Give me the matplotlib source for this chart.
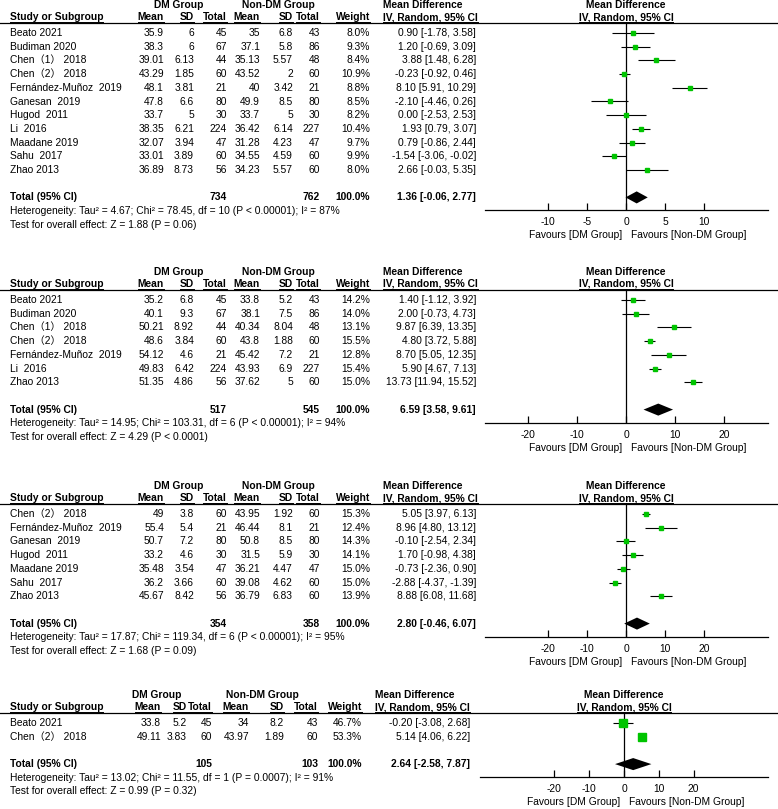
import matplotlib
matplotlib.use("Agg")
import matplotlib.pyplot as plt
import numpy as np

plt.rcParams['font.family'] = ['Liberation Sans', 'Noto Sans CJK SC']
plt.rcParams['axes.unicode_minus'] = False
FS = 7.4

#--------------------------------------------------
# datos (4 sub-analisis)

studies1 = ["Beato 2021", "Budiman 2020", "Chen（1） 2018", "Chen（2） 2018", "Fernández-Muñoz  2019",
            "Ganesan  2019", "Hugod  2011", "Li  2016", "Maadane 2019", "Sahu  2017", "Zhao 2013"]
dm_mean1 = [35.9, 38.3, 39.01, 43.29, 48.1, 47.8, 33.7, 38.35, 32.07, 33.01, 36.89]
dm_sd1 = [6, 6, 6.13, 1.85, 3.81, 6.6, 5, 6.21, 3.94, 3.89, 8.73]
dm_n1 = [45, 67, 44, 60, 21, 80, 30, 224, 47, 60, 56]
non_mean1 = [35, 37.1, 35.13, 43.52, 40, 49.9, 33.7, 36.42, 31.28, 34.55, 34.23]
non_sd1 = [6.8, 5.8, 5.57, 2, 3.42, 8.5, 5, 6.14, 4.23, 4.59, 5.57]
non_n1 = [43, 86, 48, 60, 21, 80, 30, 227, 47, 60, 60]
weight1 = [8.0, 9.3, 8.4, 10.9, 8.8, 8.5, 8.2, 10.4, 9.7, 9.9, 8.0]
md1 = [0.90, 1.20, 3.88, -0.23, 8.10, -2.10, 0.00, 1.93, 0.79, -1.54, 2.66]
lo1 = [-1.78, -0.69, 1.48, -0.92, 5.91, -4.46, -2.53, 0.79, -0.86, -3.06, -0.03]
hi1 = [3.58, 3.09, 6.28, 0.46, 10.29, 0.26, 2.53, 3.07, 2.44, -0.02, 5.35]
total1 = [734, 762, 1.36, -0.06, 2.77]
het1 = "Heterogeneity: Tau² = 4.67; Chi² = 78.45, df = 10 (P < 0.00001); I² = 87%"
test1 = "Test for overall effect: Z = 1.88 (P = 0.06)"
ticks1 = [-10, -5, 0, 5, 10]

studies2 = ["Beato 2021", "Budiman 2020", "Chen（1） 2018", "Chen（2） 2018", "Fernández-Muñoz  2019",
            "Li  2016", "Zhao 2013"]
dm_mean2 = [35.2, 40.1, 50.21, 48.6, 54.12, 49.83, 51.35]
dm_sd2 = [6.8, 9.3, 8.92, 3.84, 4.6, 6.42, 4.86]
dm_n2 = [45, 67, 44, 60, 21, 224, 56]
non_mean2 = [33.8, 38.1, 40.34, 43.8, 45.42, 43.93, 37.62]
non_sd2 = [5.2, 7.5, 8.04, 1.88, 7.2, 6.9, 5]
non_n2 = [43, 86, 48, 60, 21, 227, 60]
weight2 = [14.2, 14.0, 13.1, 15.5, 12.8, 15.4, 15.0]
md2 = [1.40, 2.00, 9.87, 4.80, 8.70, 5.90, 13.73]
lo2 = [-1.12, -0.73, 6.39, 3.72, 5.05, 4.67, 11.94]
hi2 = [3.92, 4.73, 13.35, 5.88, 12.35, 7.13, 15.52]
total2 = [517, 545, 6.59, 3.58, 9.61]
het2 = "Heterogeneity: Tau² = 14.95; Chi² = 103.31, df = 6 (P < 0.00001); I² = 94%"
test2 = "Test for overall effect: Z = 4.29 (P < 0.0001)"

studies3 = ["Chen（2） 2018", "Fernández-Muñoz  2019", "Ganesan  2019", "Hugod  2011", "Maadane 2019",
            "Sahu  2017", "Zhao 2013"]
dm_mean3 = [49, 55.4, 50.7, 33.2, 35.48, 36.2, 45.67]
dm_sd3 = [3.8, 5.4, 7.2, 4.6, 3.54, 3.66, 8.42]
dm_n3 = [60, 21, 80, 30, 47, 60, 56]
non_mean3 = [43.95, 46.44, 50.8, 31.5, 36.21, 39.08, 36.79]
non_sd3 = [1.92, 8.1, 8.5, 5.9, 4.47, 4.62, 6.83]
non_n3 = [60, 21, 80, 30, 47, 60, 60]
weight3 = [15.3, 12.4, 14.3, 14.1, 15.0, 15.0, 13.9]
md3 = [5.05, 8.96, -0.10, 1.70, -0.73, -2.88, 8.88]
lo3 = [3.97, 4.80, -2.54, -0.98, -2.36, -4.37, 6.08]
hi3 = [6.13, 13.12, 2.34, 4.38, 0.90, -1.39, 11.68]
total3 = [354, 358, 2.80, -0.46, 6.07]
het3 = "Heterogeneity: Tau² = 17.87; Chi² = 119.34, df = 6 (P < 0.00001); I² = 95%"
test3 = "Test for overall effect: Z = 1.68 (P = 0.09)"

studies4 = ["Beato 2021", "Chen（2） 2018"]
dm_mean4 = [33.8, 49.11]
dm_sd4 = [5.2, 3.83]
dm_n4 = [45, 60]
non_mean4 = [34, 43.97]
non_sd4 = [8.2, 1.89]
non_n4 = [43, 60]
weight4 = [46.7, 53.3]
md4 = [-0.20, 5.14]
lo4 = [-3.08, 4.06]
hi4 = [2.68, 6.22]
total4 = [105, 103, 2.64, -2.58, 7.87]
het4 = "Heterogeneity: Tau² = 13.02; Chi² = 11.55, df = 1 (P = 0.0007); I² = 91%"
test4 = "Test for overall effect: Z = 0.99 (P = 0.32)"
ticks20 = [-20, -10, 0, 10, 20]

#--------------------------------------------------
W, H = 778, 809
STEP = 13.7
fig = plt.figure(figsize=(W / 100, H / 100), dpi=100)
ax0 = fig.add_axes([0, 0, 1, 1])
ax0.set_xlim(0, W)
ax0.set_ylim(H, 0)
ax0.axis("off")

underlined = []


def txt(x, y, s, ha="left", bold=False, ul=False):
    t = ax0.text(x, y, s, ha=ha, va="center", fontsize=FS, fontweight="bold" if bold else "normal")
    if ul:
        underlined.append(t)
    return t


def fmt(v):
    return f"{v:g}"


def panel(row0, cols, studies, m1, s1, n1, m2, s2, n2, w, md, lo, hi, tot, het, test,
          ax_x, zero_px, half, ticks):
    c_m1, c_s1, c_n1, c_m2, c_s2, c_n2, c_w, c_md, c_mdh, c_dm, c_non = cols
    n = len(studies)
    y_grp = row0 - 28
    y_col = row0 - 16
    y_line = row0 - 11
    y_tot = row0 + (n + 1) * STEP
    y_axis = y_tot + 13

    txt(c_dm, y_grp, "DM Group", ha="center", bold=True)
    txt(c_non, y_grp, "Non-DM Group", ha="center", bold=True)
    txt(c_mdh, y_grp, "Mean Difference", bold=True)
    txt(zero_px, y_grp, "Mean Difference", ha="center", bold=True)
    txt(10, y_col, "Study or Subgroup", bold=True, ul=True)
    for x, s in zip([c_m1, c_s1, c_n1, c_m2, c_s2, c_n2, c_w],
                    ["Mean", "SD", "Total", "Mean", "SD", "Total", "Weight"]):
        txt(x, y_col, s, ha="right", bold=True, ul=True)
    txt(c_mdh, y_col, "IV, Random, 95% CI", bold=True, ul=True)
    txt(zero_px, y_col, "IV, Random, 95% CI", ha="center", bold=True, ul=True)
    ax0.plot([0, W], [y_line + 0.5, y_line + 0.5], color="black", lw=0.9)

    for i in range(n):
        y = row0 + i * STEP
        txt(10, y, studies[i])
        txt(c_m1, y, fmt(m1[i]), ha="right")
        txt(c_s1, y, fmt(s1[i]), ha="right")
        txt(c_n1, y, fmt(n1[i]), ha="right")
        txt(c_m2, y, fmt(m2[i]), ha="right")
        txt(c_s2, y, fmt(s2[i]), ha="right")
        txt(c_n2, y, fmt(n2[i]), ha="right")
        txt(c_w, y, f"{w[i]:.1f}%", ha="right")
        txt(c_md, y, f"{md[i]:.2f} [{lo[i]:.2f}, {hi[i]:.2f}]", ha="right")

    txt(10, y_tot, "Total (95% CI)", bold=True)
    txt(c_n1, y_tot, fmt(tot[0]), ha="right", bold=True)
    txt(c_n2, y_tot, fmt(tot[1]), ha="right", bold=True)
    txt(c_w, y_tot, "100.0%", ha="right", bold=True)
    txt(c_md, y_tot, f"{tot[2]:.2f} [{tot[3]:.2f}, {tot[4]:.2f}]", ha="right", bold=True)
    txt(10, y_tot + STEP, het)
    txt(10, y_tot + 2 * STEP, test)

    # forest
    x0, x1 = ax_x
    ax = fig.add_axes([x0 / W, 1 - y_axis / H, (x1 - x0) / W, (y_axis - y_line) / H])
    ax.patch.set_alpha(0)
    ax.set_xlim(-half * (zero_px - x0) / (x1 - zero_px), half)
    ax.set_ylim((y_axis - row0) / STEP, (y_line - row0) / STEP)
    for sp in ["top", "left", "right"]:
        ax.spines[sp].set_visible(False)
    ax.spines["bottom"].set_linewidth(0.9)
    ax.set_yticks([])
    ax.set_xticks(ticks)
    ax.tick_params(axis="x", direction="in", length=5, width=0.9, pad=5, labelsize=FS)
    ax.axvline(0, color="black", lw=0.9)
    idx = np.arange(n)
    ax.hlines(idx, lo, hi, color="black", lw=0.8)
    for i in range(n):
        side = 1.17 * np.sqrt(w[i])
        ax.plot(md[i], i, marker="s", ms=side * 0.72, color="#00c400", mec="#00c400", ls="none")
    yt = n + 1
    ax.fill([tot[3], tot[2], tot[4], tot[2]], [yt, yt - 0.44, yt, yt + 0.44], color="black", lw=0)
    txt(zero_px - 4, y_axis + 25, "Favours [DM Group]", ha="right")
    txt(zero_px + 5, y_axis + 25, "Favours [Non-DM Group]")


cols123 = [164, 194, 227, 260, 293, 320, 370, 476, 383, 179, 278]
cols4 = [161, 187, 212, 249, 284, 318, 362, 470, 375, 157, 262]

panel(33, cols123, studies1, dm_mean1, dm_sd1, dm_n1, non_mean1, non_sd1, non_n1, weight1,
      md1, lo1, hi1, total1, het1, test1, (485, 768), 626, 18.1, ticks1)
panel(300, cols123, studies2, dm_mean2, dm_sd2, dm_n2, non_mean2, non_sd2, non_n2, weight2,
      md2, lo2, hi2, total2, het2, test2, (485, 768), 626, 29.0, ticks20)
panel(514, cols123, studies3, dm_mean3, dm_sd3, dm_n3, non_mean3, non_sd3, non_n3, weight3,
      md3, lo3, hi3, total3, het3, test3, (485, 768), 626, 36.2, ticks20)
panel(723, cols4, studies4, dm_mean4, dm_sd4, dm_n4, non_mean4, non_sd4, non_n4, weight4,
      md4, lo4, hi4, total4, het4, test4, (480, 768), 624, 41.4, ticks20)

# subrayado de encabezados
renderer = fig.canvas.get_renderer()
inv = ax0.transData.inverted()
for t in underlined:
    bb = t.get_window_extent(renderer)
    (a, b), (c, d) = inv.transform([[bb.x0, bb.y0], [bb.x1, bb.y0]])
    ax0.plot([a, c], [b - 0.5, d - 0.5], color="black", lw=0.7)

fig.savefig("out.png", dpi=100)
